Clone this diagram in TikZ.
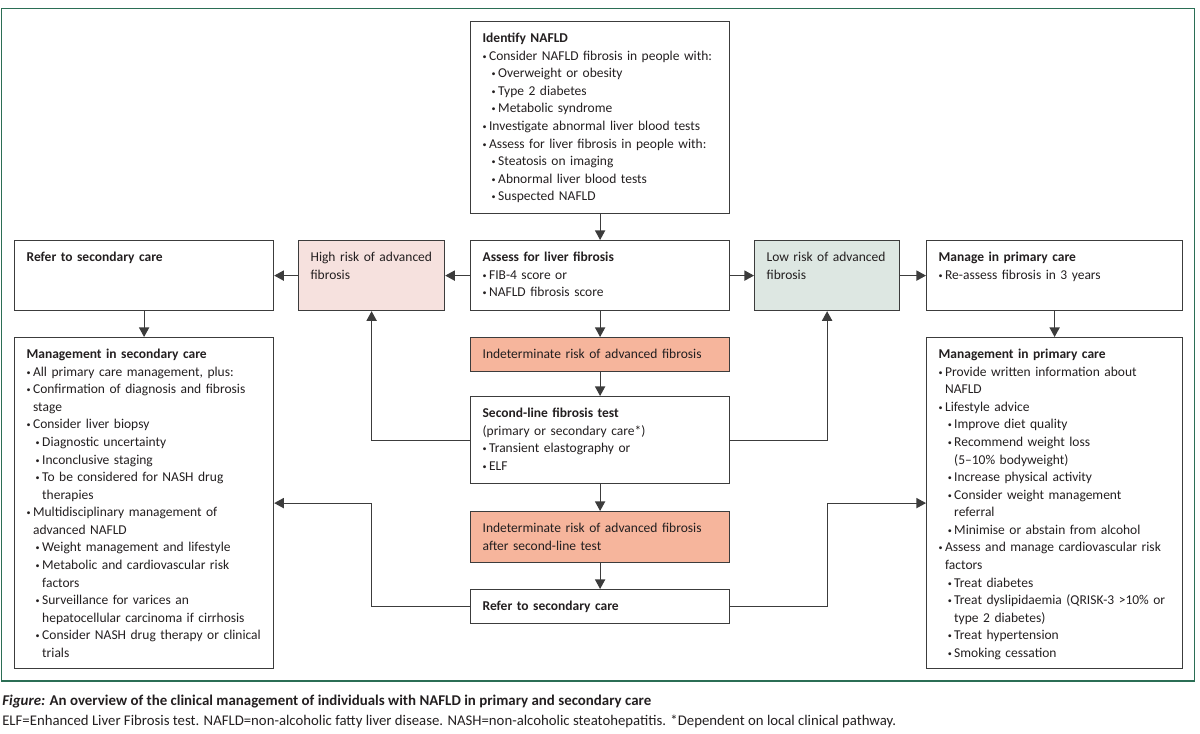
\documentclass[tikz,border=0pt]{standalone}
\usepackage{fontspec}
\setmainfont{Carlito}
\usepackage{graphicx}
\usetikzlibrary{arrows.meta}

\definecolor{framegreen}{HTML}{2B6E55}
\definecolor{highfill}{HTML}{F6E1DE}
\definecolor{lowfill}{HTML}{DDE7E2}
\definecolor{indetfill}{HTML}{F6B59C}
\definecolor{boxline}{HTML}{3C3C3C}
\definecolor{inktext}{HTML}{231F20}

\newcommand{\itemA}{\makebox[4.6pt][l]{\raisebox{.15ex}{\scalebox{.6}{\textbullet}}}}
\newcommand{\itemB}{\hspace*{6.5pt}\itemA}
\newcommand{\contA}{\hspace*{4.6pt}}
\newcommand{\contB}{\hspace*{11.1pt}}

\begin{document}
\begin{tikzpicture}
  [x=0.025cm,y=-0.025cm,every node/.style={text=inktext},
   box/.style 2 args={draw=boxline,line width=0.85pt,anchor=north west,align=left,
     inner xsep=12*0.025cm,inner ysep=0pt,text width=(#1-24)*0.025cm,
     text height=21*0.025cm,text depth=(#2-21)*0.025cm,
     font=\fontsize{9.6pt}{12.5pt}\selectfont},
   link/.style={->,draw=boxline,line width=0.85pt},
   >={Triangle[length=6.8pt,width=7.2pt]}]
  \useasboundingbox (0,0) rectangle (1200,734);
  \draw[framegreen,line width=0.8pt] (1.5,8.5) rectangle (1194.5,681);

  \node[box={259}{192}] (identify) at (470,21) {\textbf{Identify NAFLD}\\
    \itemA Consider NAFLD fibrosis in people with:\\
    \itemB Overweight or obesity\\
    \itemB Type 2 diabetes\\
    \itemB Metabolic syndrome\\
    \itemA Investigate abnormal liver blood tests\\
    \itemA Assess for liver fibrosis in people with:\\
    \itemB Steatosis on imaging\\
    \itemB Abnormal liver blood tests\\
    \itemB Suspected NAFLD};
  \node[box={259}{70}] (assess) at (470,240) {\textbf{Assess for liver fibrosis}\\
    \itemA FIB-4 score or\\
    \itemA NAFLD fibrosis score};
  \node[box={146}{70},fill=highfill] (high) at (298,240) {High risk of advanced\\fibrosis};
  \node[box={259}{70}] (refer) at (14,240) {\textbf{Refer to secondary care}};
  \node[box={145}{70},fill=lowfill] (low) at (754,240) {Low risk of advanced\\fibrosis};
  \node[box={256}{70}] (manage) at (926,240) {\textbf{Manage in primary care}\\
    \itemA Re-assess fibrosis in 3 years};
  \node[box={259}{34},fill=indetfill] (indet) at (470,337) {Indeterminate risk of advanced fibrosis};
  \node[box={259}{87}] (second) at (470,396) {\textbf{Second-line fibrosis test}\\
    (primary or secondary care*)\\
    \itemA Transient elastography or\\
    \itemA ELF};
  \node[box={259}{51},fill=indetfill] (indettwo) at (470,511) {Indeterminate risk of advanced fibrosis\\
    after second-line test};
  \node[box={259}{34}] (refertwo) at (470,589) {\textbf{Refer to secondary care}};

  \node[box={259}{331}] (secmgmt) at (14,337) {\textbf{Management in secondary care}\\
    \itemA All primary care management, plus:\\
    \itemA Confirmation of diagnosis and fibrosis\\
    \contA stage\\
    \itemA Consider liver biopsy\\
    \itemB Diagnostic uncertainty\\
    \itemB Inconclusive staging\\
    \itemB To be considered for NASH drug\\
    \contB therapies\\
    \itemA Multidisciplinary management of\\
    \contA advanced NAFLD\\
    \itemB Weight management and lifestyle\\
    \itemB Metabolic and cardiovascular risk\\
    \contB factors\\
    \itemB Surveillance for varices an\\
    \contB hepatocellular carcinoma if cirrhosis\\
    \itemB Consider NASH drug therapy or clinical\\
    \contB trials};
  \node[box={256}{331}] (primgmt) at (926,337) {\textbf{Management in primary care}\\
    \itemA Provide written information about\\
    \contA NAFLD\\
    \itemA Lifestyle advice\\
    \itemB Improve diet quality\\
    \itemB Recommend weight loss\\
    \contB (5--10\% bodyweight)\\
    \itemB Increase physical activity\\
    \itemB Consider weight management\\
    \contB referral\\
    \itemB Minimise or abstain from alcohol\\
    \itemA Assess and manage cardiovascular risk\\
    \contA factors\\
    \itemB Treat diabetes\\
    \itemB Treat dyslipidaemia (QRISK-3 >10\% or\\
    \contB type 2 diabetes)\\
    \itemB Treat hypertension\\
    \itemB Smoking cessation};

\foreach \from/\to in
{identify/assess, assess/high, high/refer, assess/low, low/manage,
 refer/secmgmt, manage/primgmt, assess/indet, indet/second,
 second/indettwo, indettwo/refertwo}
    \draw[link] (\from) -- (\to);
  \draw[link] (second) -| (high);
  \draw[link] (second) -| (low);
  \draw[link] (refertwo) -| (high.south |- secmgmt.east) -- (secmgmt);
  \draw[link] (refertwo) -| (low.south |- primgmt.west) -- (primgmt);

  \node[anchor=base west,inner sep=0pt,font=\fontsize{10.6pt}{14pt}\selectfont] (caption) at (2,705)
    {\textbf{\textit{Figure:} An overview of the clinical management of individuals with NAFLD in primary and secondary care}};
  \node[anchor=base west,inner sep=0pt,font=\fontsize{10.5pt}{14pt}\selectfont] (legend) at (2,725)
    {ELF=Enhanced Liver Fibrosis test. NAFLD=non-alcoholic fatty liver disease. NASH=non-alcoholic steatohepatitis. *Dependent on local clinical pathway.};
\end{tikzpicture}
\end{document}
